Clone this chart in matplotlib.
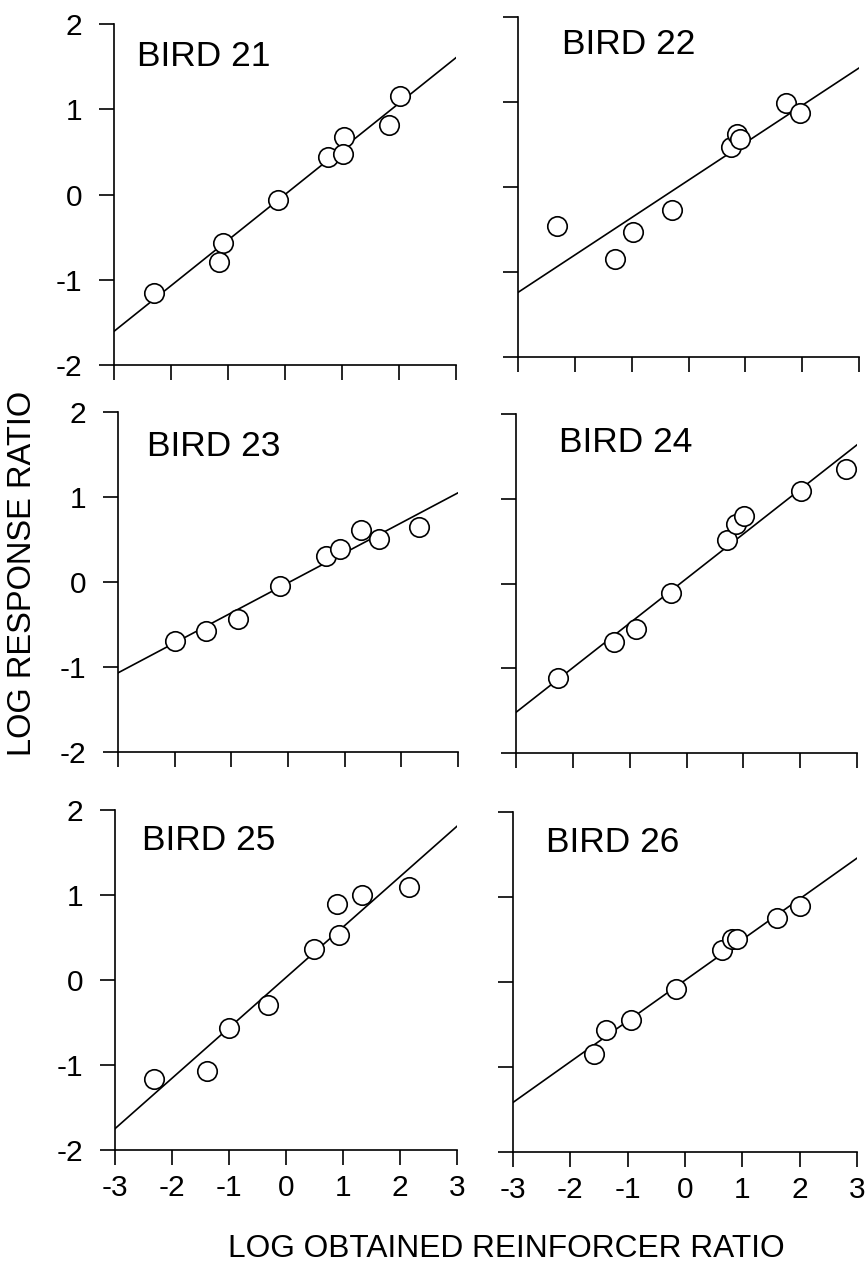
import matplotlib.pyplot as plt
import numpy as np

plt.rcParams['font.family'] = ['Liberation Sans', 'DejaVu Sans']
plt.rcParams['axes.unicode_minus'] = False

# data: log reinforcer ratio (x) vs log response ratio (y)
bird_names = ['BIRD 21', 'BIRD 22', 'BIRD 23', 'BIRD 24', 'BIRD 25', 'BIRD 26']

bird21_x = [-2.30, -1.08, -1.15, -0.13, 0.75, 1.03, 1.01, 1.82, 2.01]
bird21_y = [-1.16, -0.57, -0.79, -0.06, 0.44, 0.68, 0.48, 0.82, 1.15]

bird22_x = [-2.31, -1.29, -0.98, -0.29, 0.75, 0.85, 0.91, 1.72, 1.97]
bird22_y = [-0.46, -0.85, -0.53, -0.27, 0.47, 0.62, 0.56, 0.99, 0.87]

bird23_x = [-1.99, -1.44, -0.88, -0.14, 0.67, 0.92, 1.29, 1.60, 2.31]
bird23_y = [-0.69, -0.58, -0.44, -0.05, 0.31, 0.39, 0.61, 0.51, 0.65]

bird24_x = [-2.26, -1.28, -0.88, -0.28, 0.72, 0.87, 1.01, 2.02, 2.81]
bird24_y = [-1.11, -0.69, -0.54, -0.11, 0.51, 0.70, 0.80, 1.09, 1.35]

bird25_x = [-2.31, -1.39, -1.00, -0.31, 0.50, 0.89, 0.93, 1.33, 2.16]
bird25_y = [-1.16, -1.07, -0.57, -0.29, 0.36, 0.89, 0.53, 1.00, 1.10]

bird26_x = [-1.59, -1.37, -0.94, -0.15, 0.65, 0.82, 0.91, 1.61, 2.01]
bird26_y = [-0.85, -0.57, -0.45, -0.08, 0.38, 0.51, 0.51, 0.75, 0.90]

# fitted lines (slope, intercept)
slopes = [0.535, 0.44, 0.353, 0.526, 0.593, 0.479]
intercepts = [0.0, 0.08, -0.01, 0.058, 0.03, 0.02]

xs_all = [bird21_x, bird22_x, bird23_x, bird24_x, bird25_x, bird26_x]
ys_all = [bird21_y, bird22_y, bird23_y, bird24_y, bird25_y, bird26_y]

W, H = 866, 1273
fig = plt.figure(figsize=(W / 100, H / 100), dpi=100)

# panel boxes in pixels (left, top, right, bottom)
boxes = [(114, 24, 456, 365), (518, 17, 859, 357),
         (118, 412, 458, 752), (516, 414, 857, 753),
         (115, 810, 457, 1150), (513, 812, 857, 1152)]
# name label anchor (axes fraction, baseline)
name_pos = [(0.067, 0.877), (0.129, 0.891), (0.085, 0.871),
            (0.126, 0.888), (0.079, 0.882), (0.096, 0.882)]

for i in range(6):
    l, t, r, b = boxes[i]
    ax = fig.add_axes([l / W, 1 - b / H, (r - l) / W, (b - t) / H])
    xline = np.array([-3, 3])
    ax.plot(xline, slopes[i] * xline + intercepts[i], color='black', lw=1.2, zorder=2)
    ax.plot(xs_all[i], ys_all[i], 'o', mfc='white', mec='black', ms=14, mew=1.2, zorder=3)
    ax.set_xlim(-3, 3)
    ax.set_ylim(-2, 2)
    ax.set_xticks(range(-3, 4))
    ax.set_yticks(range(-2, 3))
    for s in ['top', 'right']:
        ax.spines[s].set_visible(False)
    for s in ['left', 'bottom']:
        ax.spines[s].set_linewidth(1.2)
    ax.tick_params(direction='out', length=11, width=1.2, labelsize=21.5)
    ax.tick_params(axis='y', pad=12)
    ax.tick_params(axis='x', pad=6.5)
    if i < 4:
        ax.tick_params(labelbottom=False)
    if i % 2 == 1:
        ax.tick_params(labelleft=False)
    ax.text(name_pos[i][0], name_pos[i][1], bird_names[i], transform=ax.transAxes,
            fontsize=25.5, va='baseline', ha='left')

fig.text(506 / W, 1 - 1257 / H, 'LOG OBTAINED REINFORCER RATIO', ha='center',
         va='baseline', fontsize=22.8)
fig.text(23 / W, 1 - 573 / H, 'LOG RESPONSE RATIO', ha='center', va='center',
         rotation=90, fontsize=23.5)

fig.savefig('out.png', dpi=100)
